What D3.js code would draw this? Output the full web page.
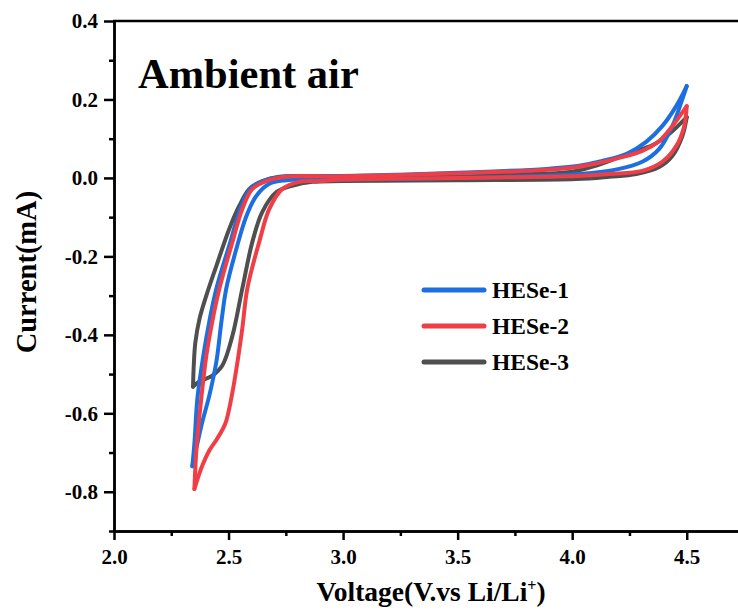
<!DOCTYPE html>
<html>
<head>
<meta charset="utf-8">
<script src="https://cdn.jsdelivr.net/npm/d3@7"></script>
<style>
  body { margin: 0; background: #fff; }
  text { font-family: "Liberation Serif", "Times New Roman", serif; font-weight: bold; }
</style>
</head>
<body>
<script>
// CV loops, [voltage V, current mA]; cathodic sweep 4.5 -> 2.35, anodic sweep back
var hese1Cathodic = [[4.50,0.234],[4.481,0.201],[4.437,0.132],[4.38,0.074],[4.306,0.041],[4.205,0.023],[4.031,0.010],[3.738,0.003],[3.3,-0.002],[3.0,-0.004],[2.84,-0.004],[2.752,-0.006],[2.678,-0.015],[2.621,-0.046],[2.578,-0.097],[2.534,-0.181],[2.490,-0.282],[2.469,-0.366],[2.447,-0.468],[2.416,-0.555],[2.386,-0.621],[2.364,-0.677],[2.342,-0.735]];
var hese1Anodic = [[2.342,-0.735],[2.351,-0.677],[2.364,-0.562],[2.390,-0.453],[2.416,-0.366],[2.447,-0.282],[2.508,-0.163],[2.551,-0.079],[2.595,-0.028],[2.652,-0.008],[2.739,0.003],[3.0,0.005],[3.5,0.013],[3.887,0.023],[4.031,0.031],[4.131,0.043],[4.236,0.061],[4.323,0.092],[4.393,0.132],[4.454,0.183],[4.50,0.234]];

var hese2Cathodic = [[4.50,0.183],[4.489,0.132],[4.454,0.081],[4.393,0.041],[4.306,0.018],[4.162,0.010],[4.018,0.005],[3.5,0.0],[3.0,-0.004],[2.896,-0.008],[2.809,-0.010],[2.735,-0.028],[2.678,-0.079],[2.634,-0.163],[2.582,-0.282],[2.560,-0.384],[2.538,-0.473],[2.512,-0.562],[2.486,-0.626],[2.451,-0.664],[2.416,-0.695],[2.381,-0.740],[2.351,-0.793]];
var hese2Anodic = [[2.351,-0.793],[2.360,-0.690],[2.381,-0.562],[2.403,-0.453],[2.429,-0.366],[2.460,-0.282],[2.517,-0.163],[2.560,-0.079],[2.604,-0.028],[2.665,-0.008],[2.752,0.003],[3.0,0.004],[3.5,0.012],[3.8,0.018],[4.0,0.026],[4.1,0.036],[4.205,0.051],[4.306,0.069],[4.38,0.094],[4.437,0.132],[4.50,0.183]];

var hese3Cathodic = [[4.50,0.155],[4.481,0.107],[4.437,0.056],[4.38,0.028],[4.28,0.010],[4.162,0.003],[4.018,-0.003],[3.5,-0.006],[3.0,-0.008],[2.866,-0.010],[2.778,-0.020],[2.709,-0.036],[2.647,-0.087],[2.604,-0.163],[2.560,-0.282],[2.517,-0.402],[2.473,-0.478],[2.429,-0.504],[2.373,-0.519],[2.345,-0.532]];
var hese3Anodic = [[2.345,-0.532],[2.348,-0.480],[2.355,-0.420],[2.373,-0.360],[2.403,-0.300],[2.447,-0.224],[2.503,-0.130],[2.547,-0.071],[2.591,-0.028],[2.647,-0.008],[2.722,0.003],[3.0,0.003],[3.5,0.008],[4.0,0.016],[4.118,0.034],[4.262,0.066],[4.349,0.083],[4.423,0.112],[4.50,0.155]];

var seriesNames = ["HESe-1", "HESe-2", "HESe-3"];
var seriesColors = ["#1c6fe0", "#ef3e45", "#4f4f4f"];
var xTicks = [2.0, 2.5, 3.0, 3.5, 4.0, 4.5];
var xMinor = [2.25, 2.75, 3.25, 3.75, 4.25, 4.75];
var yTicks = [-0.8, -0.6, -0.4, -0.2, 0.0, 0.2, 0.4];
var yMinor = [-0.9, -0.7, -0.5, -0.3, -0.1, 0.1, 0.3];

var Width = 738, Height = 610;
var serif = '"Liberation Serif", "Times New Roman", serif';

var svg = d3.select("body").append("svg")
	.attr("width", Width)
	.attr("height", Height);

var x = d3.scaleLinear().domain([2.0, 4.75]).range([114, 744]);
var y = d3.scaleLinear().domain([-0.9, 0.4]).range([531, 21]);

svg.append("clipPath").attr("id", "plot")
	.append("rect")
	.attr("x", x(2.0)).attr("y", y(0.4))
	.attr("width", x(4.75) - x(2.0)).attr("height", y(-0.9) - y(0.4));

var line = d3.line()
	.x(function(d) { return x(d[0]); })
	.y(function(d) { return y(d[1]); })
	.curve(d3.curveCatmullRom.alpha(0.5));

var curves = [
	[hese3Cathodic, hese3Anodic, 2],
	[hese1Cathodic, hese1Anodic, 0],
	[hese2Cathodic, hese2Anodic, 1]
];

var g = svg.append("g").attr("clip-path", "url(#plot)");
curves.forEach(function(c) {
	[c[0], c[1]].forEach(function(part) {
		g.append("path")
			.attr("d", line(part))
			.attr("fill", "none")
			.attr("stroke", seriesColors[c[2]])
			.attr("stroke-width", 4)
			.attr("stroke-linecap", "round")
			.attr("stroke-linejoin", "round");
	});
});

// axes
var fmt = function(d) { return d.toFixed(1); };

svg.append("g")
	.attr("transform", "translate(0," + y(-0.9) + ")")
	.call(d3.axisBottom(x).tickValues(xTicks).tickFormat(fmt).tickSize(9).tickSizeOuter(0).tickPadding(9));
svg.append("g")
	.attr("transform", "translate(0," + y(-0.9) + ")")
	.call(d3.axisBottom(x).tickValues(xMinor).tickFormat("").tickSize(5).tickSizeOuter(0));

svg.append("g")
	.attr("transform", "translate(" + x(2.0) + ",0)")
	.call(d3.axisLeft(y).tickValues(yTicks).tickFormat(fmt).tickSize(10).tickSizeOuter(0).tickPadding(6));
svg.append("g")
	.attr("transform", "translate(" + x(2.0) + ",0)")
	.call(d3.axisLeft(y).tickValues(yMinor).tickFormat("").tickSize(5).tickSizeOuter(0));

svg.selectAll(".domain, .tick line").attr("stroke", "#000").attr("stroke-width", 2.5);
svg.selectAll(".tick text")
	.attr("font-family", serif)
	.attr("font-weight", "bold")
	.attr("font-size", 21)
	.attr("fill", "#000");

// top frame line
svg.append("line")
	.attr("x1", x(2.0) - 1).attr("x2", x(4.75))
	.attr("y1", y(0.4)).attr("y2", y(0.4))
	.attr("stroke", "#000").attr("stroke-width", 2.5);

// titles
svg.append("text")
	.attr("x", 431).attr("y", 601)
	.attr("text-anchor", "middle")
	.attr("font-size", 27.5)
	.html('Voltage(V.vs Li/Li<tspan dy="-10" font-size="16">+</tspan><tspan dy="10">)</tspan>');

svg.append("text")
	.attr("transform", "translate(36," + y(-0.24) + ") rotate(-90)")
	.attr("text-anchor", "middle")
	.attr("font-size", 28.5)
	.text("Current(mA)");

svg.append("text")
	.attr("x", 138).attr("y", 88)
	.attr("font-size", 42.5)
	.text("Ambient air");

// legend
var legend = svg.append("g");
seriesNames.forEach(function(name, i) {
	var ly = 290 + i * 36;
	legend.append("line")
		.attr("x1", 424).attr("x2", 484)
		.attr("y1", ly).attr("y2", ly)
		.attr("stroke", seriesColors[i])
		.attr("stroke-width", 5)
		.attr("stroke-linecap", "round");
	legend.append("text")
		.attr("x", 492).attr("y", ly + 8)
		.attr("font-size", 23.5)
		.text(name);
});
</script>
</body>
</html>
